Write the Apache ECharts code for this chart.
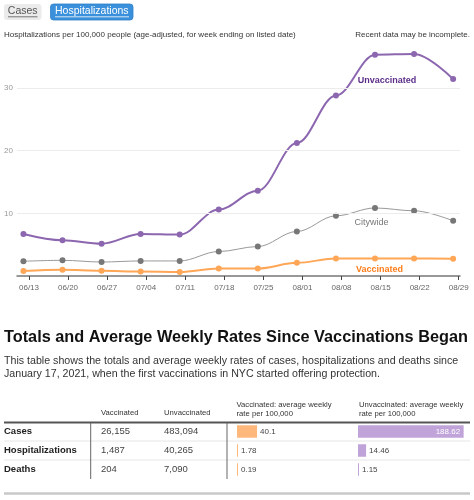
<!DOCTYPE html>
<html><head><meta charset="utf-8">
<script src="https://cdn.jsdelivr.net/npm/echarts@6/dist/echarts.min.js"></script>
<style>html,body{margin:0;padding:0;background:#fff}#c{width:474px;height:500px}</style>
</head><body><div id="c"></div>
<script>
// ---- data ----
const dates = ['06/13','06/20','06/27','07/04','07/11','07/18','07/25','08/01','08/08','08/15','08/22','08/29'];
const unvaccinated = [6.7, 5.7, 5.15, 6.7, 6.6, 10.6, 13.6, 21.2, 28.8, 35.3, 35.4, 31.4];
const citywide = [2.35, 2.5, 2.23, 2.4, 2.4, 3.9, 4.7, 7.1, 9.6, 10.85, 10.4, 8.8];
const vaccinated = [0.8, 1.0, 0.85, 0.7, 0.64, 1.2, 1.2, 2.1, 2.8, 2.8, 2.8, 2.75];
const yTicks = [10, 20, 30];
const rowNames = ['Cases', 'Hospitalizations', 'Deaths'];
const totalsVaccinated = [26155, 1487, 204];
const totalsUnvaccinated = [483094, 40265, 7090];
const rateVaccinated = [40.1, 1.78, 0.19];
const rateUnvaccinated = [188.62, 14.46, 1.15];

// ---- styles ----
const FONT = '"Liberation Sans", Arial, Helvetica, sans-serif';
const PURPLE = '#8c67b0', ORANGE = '#ffa657', GRAY = '#999';
const DAYS = 7, POINT_SHIFT = -1, LABEL_IDX = 9;

function txt(x, y, text, size, o) {
  o = o || {};
  return { type: 'text', x: x, y: y, silent: true, style: {
    text: text, fontSize: size, fontFamily: FONT, fill: o.fill || '#333',
    fontWeight: o.bold ? 'bold' : 'normal', align: o.align || 'left', verticalAlign: 'middle' } };
}
function hline(x1, x2, y, color, w) {
  return { type: 'line', silent: true, shape: { x1: x1, y1: y, x2: x2, y2: y }, style: { stroke: color, lineWidth: w } };
}
function vline(x, y1, y2, color, w) {
  return { type: 'line', silent: true, shape: { x1: x, y1: y1, x2: x, y2: y2 }, style: { stroke: color, lineWidth: w } };
}
const fmt = n => n.toLocaleString('en-US');

function lineSeries(name, values, color, width, symColor, labelStyle) {
  return {
    type: 'line', name: name, xAxisIndex: 0, yAxisIndex: 0,
    smooth: 0.35, smoothMonotone: 'x',
    symbol: 'circle', symbolSize: 6, showSymbol: true,
    lineStyle: { color: color, width: width },
    itemStyle: { color: symColor },
    emphasis: { disabled: true },
    data: values.map((v, i) => {
      const item = { value: [i * DAYS + POINT_SHIFT, v] };
      if (i === LABEL_IDX) item.label = Object.assign({ show: true, position: 'inside', formatter: name, fontFamily: FONT }, labelStyle);
      return item;
    })
  };
}

const tickVals = dates.map((d, i) => i * DAYS);
const rowY = [431.3, 450.3, 469.3];

const graphic = [];
// buttons
graphic.push({ type: 'rect', shape: { x: 4, y: 4, width: 37.5, height: 16, r: 3 }, style: { fill: '#ebebeb' } });
graphic.push(txt(22.7, 11.5, 'Cases', 10.5, { fill: '#555', align: 'center' }));
graphic.push(hline(8, 37.5, 16.8, '#555', 0.8));
graphic.push({ type: 'rect', shape: { x: 50.5, y: 4, width: 82.5, height: 16, r: 3 }, style: { fill: '#3a90db', stroke: '#2f80c8', lineWidth: 0.8 } });
graphic.push(txt(91.8, 11.5, 'Hospitalizations', 10.5, { fill: '#fff', align: 'center' }));
graphic.push(hline(55, 129, 16.8, '#fff', 0.8));
// chart header
graphic.push(txt(4, 34.5, 'Hospitalizations per 100,000 people (age-adjusted, for week ending on listed date)', 8, { fill: '#333' }));
graphic.push(txt(470, 34.5, 'Recent data may be incomplete.', 8, { fill: '#333', align: 'right' }));
// section title
graphic.push(txt(4, 337.5, 'Totals and Average Weekly Rates Since Vaccinations Began', 16.3, { fill: '#111', bold: true }));
graphic.push(txt(4, 361.5, 'This table shows the totals and average weekly rates of cases, hospitalizations and deaths since', 10.65, { fill: '#333' }));
graphic.push(txt(4, 374.5, 'January 17, 2021, when the first vaccinations in NYC started offering protection.', 10.65, { fill: '#333' }));
// table header
graphic.push(txt(101, 413, 'Vaccinated', 7.7, { fill: '#333' }));
graphic.push(txt(164, 413, 'Unvaccinated', 7.7, { fill: '#333' }));
graphic.push(txt(236.5, 404.5, 'Vaccinated: average weekly', 7.7, { fill: '#333' }));
graphic.push(txt(236.5, 413.5, 'rate per 100,000', 7.7, { fill: '#333' }));
graphic.push(txt(359, 404.5, 'Unvaccinated: average weekly', 7.7, { fill: '#333' }));
graphic.push(txt(359, 413.5, 'rate per 100,000', 7.7, { fill: '#333' }));
// table lines
graphic.push(hline(4, 470, 441, '#e6e6e6', 1));
graphic.push(hline(4, 470, 460, '#e6e6e6', 1));
graphic.push(hline(4, 470, 422.5, '#555', 2));
graphic.push(vline(90.7, 423, 479, '#666', 1));
graphic.push(vline(227, 423, 479, '#666', 1));
graphic.push(hline(4, 470, 493.5, '#c8c8c8', 2.5));
// table cells
rowNames.forEach((r, i) => {
  graphic.push(txt(4, rowY[i], r, 9.5, { fill: '#222', bold: true }));
  graphic.push(txt(101, rowY[i], fmt(totalsVaccinated[i]), 9.5, { fill: '#444' }));
  graphic.push(txt(164, rowY[i], fmt(totalsUnvaccinated[i]), 9.5, { fill: '#444' }));
});

const maxU = Math.max.apply(null, rateUnvaccinated);
function rateBars(values, axisIdx, color, maxVal) {
  return {
    type: 'bar', xAxisIndex: axisIdx, yAxisIndex: axisIdx, barWidth: 12.5, barMinHeight: 1,
    itemStyle: { color: color }, emphasis: { disabled: true },
    data: values.map(v => {
      const inside = v / maxVal > 0.5;
      return { value: v, label: { show: true, position: inside ? 'insideRight' : 'right',
        distance: inside ? 3.5 : 3, color: inside ? '#fff' : '#444', fontSize: 8, fontFamily: FONT,
        formatter: String(v) } };
    })
  };
}

const option = {
  animation: false,
  backgroundColor: '#fff',
  grid: [
    { left: 17, right: 14, top: 44, height: 232 },
    { left: 237, top: 422, width: 112, height: 57 },
    { left: 358, top: 422, width: 112, height: 57 }
  ],
  xAxis: [
    { gridIndex: 0, type: 'value', min: -2.15, max: 77.23,
      axisLine: { show: true, lineStyle: { color: '#777', width: 1.5 } },
      axisTick: { show: true, customValues: tickVals, length: 4, lineStyle: { color: '#444' } },
      axisLabel: { customValues: tickVals, formatter: v => dates[Math.round(v / DAYS)], color: '#666', fontSize: 8, fontFamily: FONT, margin: 8 },
      splitLine: { show: false } },
    { gridIndex: 1, type: 'value', min: 0, max: 224, show: false },
    { gridIndex: 2, type: 'value', min: 0, max: 200, show: false }
  ],
  yAxis: [
    { gridIndex: 0, type: 'value', min: 0, max: 37, interval: 10,
      axisLine: { show: false }, axisTick: { show: false }, splitLine: { show: false },
      axisLabel: { showMinLabel: false, showMaxLabel: false, color: '#999', fontSize: 8, fontFamily: FONT, margin: 4 } },
    { gridIndex: 1, type: 'category', data: rowNames, inverse: true, show: false },
    { gridIndex: 2, type: 'category', data: rowNames, inverse: true, show: false }
  ],
  graphic: graphic,
  series: [
    Object.assign(lineSeries('Citywide', citywide, GRAY, 1, '#777', { offset: [-3.5, 14.5], color: '#777', fontSize: 9 }), {
      markLine: { silent: true, symbol: 'none', label: { show: false }, animation: false,
        lineStyle: { color: '#ececec', type: 'solid', width: 1 },
        data: yTicks.map(t => ({ yAxis: t })) }, z: 1 }),
    Object.assign(lineSeries('Vaccinated', vaccinated, ORANGE, 2, ORANGE, { offset: [4.5, 11], color: '#ff7d1a', fontSize: 9, fontWeight: 'bold' }), { z: 2 }),
    Object.assign(lineSeries('Unvaccinated', unvaccinated, PURPLE, 2, PURPLE, { offset: [12, 25.5], color: '#5c2d88', fontSize: 9, fontWeight: 'bold' }), { z: 3 }),
    rateBars(rateVaccinated, 1, '#ffb87c', maxU),
    rateBars(rateUnvaccinated, 2, '#c0a3d9', maxU)
  ]
};
const chart = echarts.init(document.getElementById('c'), null, { renderer: 'canvas' });
chart.setOption(option);
</script>
</body></html>
